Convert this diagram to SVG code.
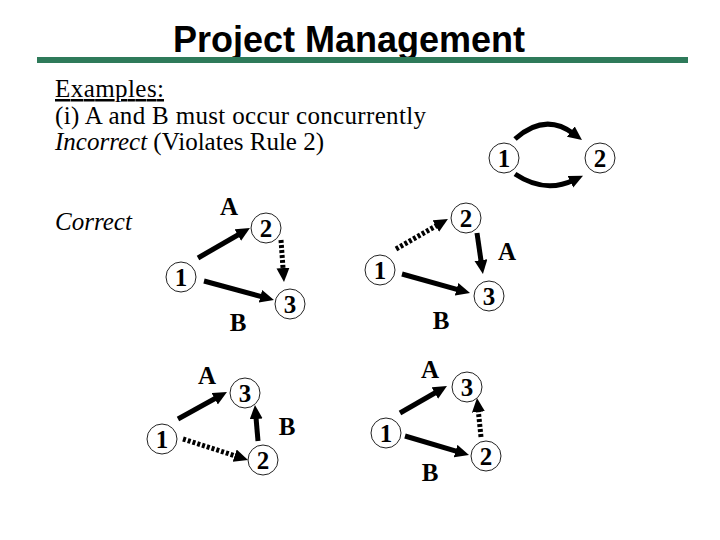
<svg xmlns="http://www.w3.org/2000/svg" width="720" height="540" viewBox="0 0 720 540">
<style>
.title{font-family:"Liberation Sans",Arial,sans-serif;font-weight:bold;font-size:36px;fill:#000}
.body{font-family:"Liberation Serif","Times New Roman",serif;font-size:25px;fill:#000}
.lbl{font-family:"Liberation Serif","Times New Roman",serif;font-weight:bold;font-size:25px;fill:#000;text-anchor:middle}
.node circle{fill:none;stroke:#222;stroke-width:1}
.solid{fill:none;stroke:#000;stroke-width:5;marker-end:url(#ah)}
.dot{fill:none;stroke:#000;stroke-width:5;stroke-dasharray:3 2;marker-end:url(#ah)}
</style>
<defs>
<marker id="ah" markerUnits="userSpaceOnUse" markerWidth="16" markerHeight="14" refX="4" refY="6.5" orient="auto">
<path d="M0,0 L14,6.5 L0,13 z" fill="#000"/>
</marker>
</defs>
<rect width="720" height="540" fill="#fff"/>
<text class="title" x="349" y="52" text-anchor="middle">Project Management</text>
<rect x="37" y="57" width="651" height="6" fill="#2e7a5a"/>
<text class="body" x="55" y="97" text-decoration="underline" textLength="109">Examples:</text>
<text class="body" x="55" y="124" textLength="371">(i) A and B must occur concurrently</text>
<text class="body" x="55" y="150"><tspan font-style="italic">Incorrect</tspan> (Violates Rule 2)</text>
<text class="body" x="55" y="230" font-style="italic">Correct</text>

<g id="connectors">
<path class="solid" d="M515,139 Q545,112 574,134"/>
<path class="solid" d="M515,174 Q545,194 574,180"/>
<path class="solid" d="M198,258 L241.3,233"/>
<path class="solid" d="M204,281 L264.3,297.4"/>
<path class="dot" d="M281,240 L283.3,272"/>
<path class="dot" d="M396,249 L439.3,224"/>
<path class="solid" d="M477,233 L481.5,264.1"/>
<path class="solid" d="M402,274 L460.4,290.3"/>
<path class="solid" d="M178,419 L218.2,396.8"/>
<path class="solid" d="M258,441 L255.8,415"/>
<path class="dot" d="M183,439 L238.5,456.9"/>
<path class="solid" d="M400,413 L438.3,391"/>
<path class="dot" d="M481,437 L478,408"/>
<path class="solid" d="M405,436 L459.4,452.2"/>
</g>

<g id="inc-1" class="node"><circle cx="504" cy="158" r="15"/><text class="lbl" x="504" y="166.5">1</text></g>
<g id="inc-2" class="node"><circle cx="600" cy="158" r="15"/><text class="lbl" x="600" y="166.5">2</text></g>

<g id="c1-1" class="node"><circle cx="181" cy="277" r="15"/><text class="lbl" x="181" y="285.5">1</text></g>
<g id="c1-2" class="node"><circle cx="266" cy="228" r="15"/><text class="lbl" x="266" y="236.5">2</text></g>
<g id="c1-3" class="node"><circle cx="290" cy="304" r="15"/><text class="lbl" x="290" y="312.5">3</text></g>
<text class="lbl" x="229" y="214.5">A</text>
<text class="lbl" x="238" y="330.5">B</text>

<g id="c2-1" class="node"><circle cx="380" cy="270" r="15"/><text class="lbl" x="380" y="278.5">1</text></g>
<g id="c2-2" class="node"><circle cx="466" cy="218" r="15"/><text class="lbl" x="466" y="226.5">2</text></g>
<g id="c2-3" class="node"><circle cx="489" cy="296" r="15"/><text class="lbl" x="489" y="304.5">3</text></g>
<text class="lbl" x="507" y="259.5">A</text>
<text class="lbl" x="441" y="328.5">B</text>

<g id="c3-1" class="node"><circle cx="162" cy="439" r="15"/><text class="lbl" x="162" y="447.5">1</text></g>
<g id="c3-3" class="node"><circle cx="245" cy="393" r="15"/><text class="lbl" x="245" y="401.5">3</text></g>
<g id="c3-2" class="node"><circle cx="263" cy="460" r="15"/><text class="lbl" x="263" y="468.5">2</text></g>
<text class="lbl" x="207" y="383.5">A</text>
<text class="lbl" x="287" y="434.5">B</text>

<g id="c4-1" class="node"><circle cx="386" cy="433" r="15"/><text class="lbl" x="386" y="441.5">1</text></g>
<g id="c4-3" class="node"><circle cx="467" cy="387" r="15"/><text class="lbl" x="467" y="395.5">3</text></g>
<g id="c4-2" class="node"><circle cx="486" cy="456" r="15"/><text class="lbl" x="486" y="464.5">2</text></g>
<text class="lbl" x="430" y="377.5">A</text>
<text class="lbl" x="430" y="480.5">B</text>
</svg>
